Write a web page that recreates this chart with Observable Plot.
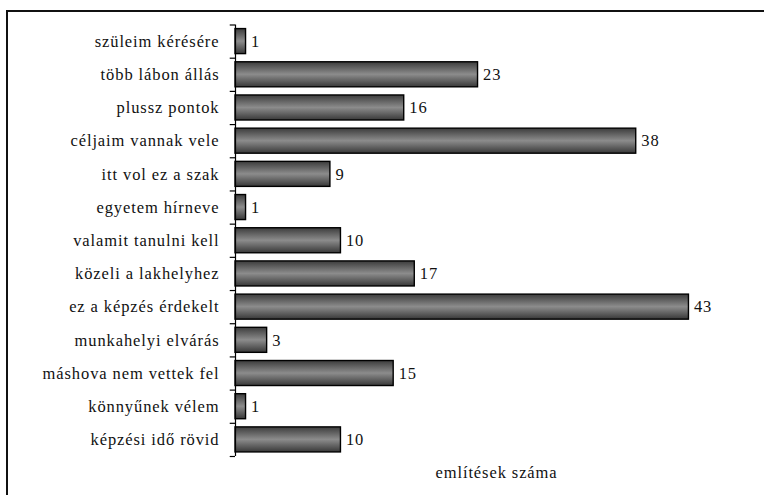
<!DOCTYPE html>
<html>
<head>
<meta charset="utf-8">
<script src="https://cdn.jsdelivr.net/npm/d3@7"></script>
<script src="https://cdn.jsdelivr.net/npm/@observablehq/plot@0.6"></script>
<style>
  html, body { margin: 0; padding: 0; background: #fff; }
  #wrap { position: relative; width: 764px; height: 495px; overflow: hidden; background: #fff; }
  #frame { position: absolute; left: 6px; top: 10px; width: 820px; height: 600px;
           border-left: 2px solid #111; border-top: 2px solid #111; box-sizing: border-box; }
  #chart { position: absolute; left: 0; top: 0; }
</style>
</head>
<body>
<div id="wrap"><div id="frame"></div><div id="chart"></div></div>
<script>
const categories = [
  "szüleim kérésére",
  "több lábon állás",
  "plussz pontok",
  "céljaim vannak vele",
  "itt vol ez a szak",
  "egyetem hírneve",
  "valamit tanulni kell",
  "közeli a lakhelyhez",
  "ez a képzés érdekelt",
  "munkahelyi elvárás",
  "máshova nem vettek fel",
  "könnyűnek vélem",
  "képzési idő rövid"
];
const values = [1, 23, 16, 38, 9, 1, 10, 17, 43, 3, 15, 1, 10];
const axisTitle = "említések száma";

const data = categories.map((c, i) => ({cat: c, value: values[i], i}));
const boundaries = d3.range(categories.length + 1).map(k => k - 0.5);

const plot = Plot.plot({
  width: 764,
  height: 495,
  marginLeft: 235,
  marginRight: 7,
  marginTop: 24.5,
  marginBottom: 39,
  style: {fontFamily: "Liberation Serif", fontSize: "16.5px", background: "transparent"},
  x: {domain: [0, 49.5], axis: null},
  y: {domain: [-0.5, categories.length - 0.5], reverse: true, axis: null},
  marks: [
    Plot.rectX(data, {
      x1: 0, x2: "value",
      y1: d => d.i - 0.377, y2: d => d.i + 0.377,
      fill: "url(#barGrad)", stroke: "#000", strokeWidth: 1.4
    }),
    Plot.ruleX([0], {y1: -0.5, y2: categories.length - 0.5, stroke: "#000", strokeWidth: 1.2}),
    Plot.ruleY(boundaries, {x1: -0.5, x2: 0, stroke: "#000", strokeWidth: 1.2}),
    Plot.text(data, {x: 0, y: "i", text: "cat", textAnchor: "end", dx: -16, fill: "#111", fontFamily: "Liberation Serif"}),
    Plot.text(data, {x: "value", y: "i", text: d => String(d.value), textAnchor: "start", dx: 5, fill: "#111", fontFamily: "Liberation Serif"}),
    Plot.text([axisTitle], {frameAnchor: "bottom", lineAnchor: "bottom", dy: 21, text: d => d, fill: "#111", fontFamily: "Liberation Serif"})
  ]
});

plot.querySelectorAll("text").forEach(t => {
  t.style.fontFamily = "'Liberation Serif', serif";
  t.style.fontSize = "16.5px";
  t.style.letterSpacing = "0.9px";
});

const ns = "http://www.w3.org/2000/svg";
const defs = document.createElementNS(ns, "defs");
const grad = document.createElementNS(ns, "linearGradient");
grad.setAttribute("id", "barGrad");
grad.setAttribute("x1", "0"); grad.setAttribute("y1", "0");
grad.setAttribute("x2", "0"); grad.setAttribute("y2", "1");
[["0", "#3c3c3c"], ["0.5", "#8c8c8c"], ["1", "#383838"]].forEach(([o, c]) => {
  const s = document.createElementNS(ns, "stop");
  s.setAttribute("offset", o); s.setAttribute("stop-color", c);
  grad.appendChild(s);
});
defs.appendChild(grad);
plot.insertBefore(defs, plot.firstChild);
document.getElementById("chart").appendChild(plot);
</script>
</body>
</html>
